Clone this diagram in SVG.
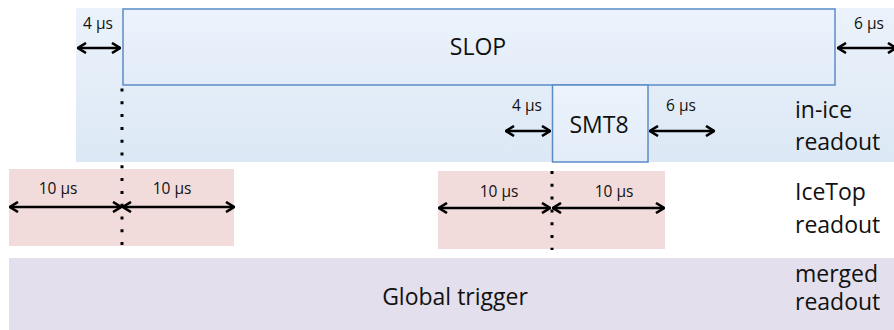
<svg xmlns="http://www.w3.org/2000/svg" width="894" height="330" viewBox="0 0 894 330">
<defs>
<linearGradient id="iceBg" x1="0" y1="0" x2="0" y2="1">
<stop offset="0" stop-color="#ebf2fb"/>
<stop offset="1" stop-color="#dce8f5"/>
</linearGradient>
<linearGradient id="boxBg" x1="0" y1="0" x2="0" y2="1">
<stop offset="0" stop-color="#ecf3fc"/>
<stop offset="1" stop-color="#e2ecf8"/>
</linearGradient>
<marker id="ah" viewBox="0 0 10 12" refX="9" refY="6" markerWidth="10" markerHeight="12" markerUnits="userSpaceOnUse" orient="auto-start-reverse">
<path d="M1 1 L9 6 L1 11" fill="none" stroke="#000" stroke-width="2.6"/>
</marker>
<style>
.big{font-family:"Open Sans","Noto Sans",sans-serif;font-size:23px;fill:#111}
.sm{font-family:"Open Sans","Noto Sans",sans-serif;font-size:15.5px;fill:#111}
.box{stroke:#5b8cc8;stroke-width:1.5;fill:url(#boxBg)}
.arr{stroke:#000;stroke-width:2.4;fill:none;marker-start:url(#ah);marker-end:url(#ah)}
.dot{stroke:#000;stroke-width:3;stroke-dasharray:3 9.8;fill:none}
</style>
</defs>
<g id="inice-bg"><rect x="76" y="8" width="818" height="154" fill="url(#iceBg)"/></g>
<g id="icetop-bg1"><rect x="9" y="169" width="225" height="77" fill="#f2dcdb"/></g>
<g id="icetop-bg2"><rect x="438" y="171" width="227" height="78" fill="#f2dcdb"/></g>
<g id="merged-bg"><rect x="9" y="258" width="885" height="72" fill="#e4dfec"/></g>
<g id="slop"><rect class="box" x="123" y="9" width="712" height="76"/><text class="big" x="478" y="55" text-anchor="middle">SLOP</text></g>
<g id="smt8"><rect class="box" x="552.5" y="85" width="95.5" height="77"/><text class="big" x="599" y="133" text-anchor="middle">SMT8</text></g>
<g id="labels">
<text class="big" x="795" y="118">in-ice</text>
<text class="big" x="795" y="150">readout</text>
<text class="big" x="795" y="200">IceTop</text>
<text class="big" x="795" y="233">readout</text>
<text class="big" x="795" y="282">merged</text>
<text class="big" x="795" y="310">readout</text>
<text class="big" x="455" y="305" text-anchor="middle">Global trigger</text>
<text class="sm" x="98" y="29" text-anchor="middle">4 µs</text>
<text class="sm" x="869" y="29" text-anchor="middle">6 µs</text>
<text class="sm" x="527" y="111" text-anchor="middle">4 µs</text>
<text class="sm" x="681" y="111" text-anchor="middle">6 µs</text>
<text class="sm" x="58" y="194" text-anchor="middle">10 µs</text>
<text class="sm" x="172" y="194" text-anchor="middle">10 µs</text>
<text class="sm" x="499" y="197" text-anchor="middle">10 µs</text>
<text class="sm" x="614" y="197" text-anchor="middle">10 µs</text>
</g>
<g id="connectors">
<line class="arr" x1="78" y1="48" x2="120" y2="48"/>
<line class="arr" x1="838" y1="48" x2="896" y2="48"/>
<line class="arr" x1="506" y1="131" x2="550" y2="131"/>
<line class="arr" x1="650" y1="131" x2="714" y2="131"/>
<line class="arr" x1="10" y1="207" x2="121" y2="207"/>
<line class="arr" x1="123" y1="207" x2="234" y2="207"/>
<line class="arr" x1="439" y1="208" x2="550" y2="208"/>
<line class="arr" x1="553" y1="208" x2="664" y2="208"/>
<line class="dot" x1="122" y1="88.5" x2="122" y2="247"/>
<line class="dot" x1="552" y1="171" x2="552" y2="250"/>
</g>
</svg>
